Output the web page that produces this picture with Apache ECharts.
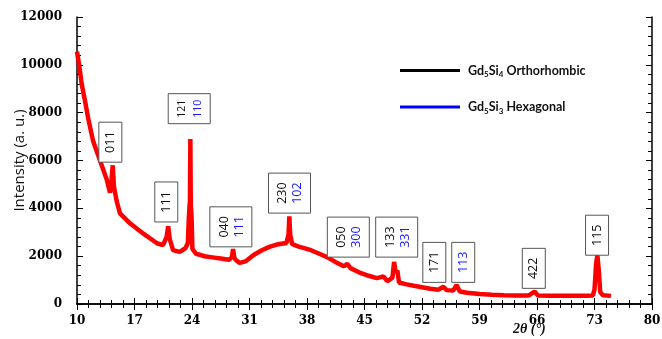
<!DOCTYPE html>
<html><head><meta charset="utf-8">
<script src="https://cdn.jsdelivr.net/npm/echarts@6/dist/echarts.min.js"></script>
<style>html,body{margin:0;padding:0;background:#fff}#c{width:662px;height:339px}</style>
</head><body><div id="c"></div>
<script>
// 2θ (degrees) and intensity (a.u.)
const twoTheta = [10.0,10.3,10.57,10.97,11.34,11.95,12.8,13.65,14.02,14.2,14.35,14.5,14.83,15.23,16.45,18.04,19.74,20.47,20.9,21.1,21.3,21.69,22.5,23.2,23.5,23.6,23.7,23.75,23.8,23.85,23.95,24.05,24.5,25.5,26.5,27.5,28.5,28.85,29.0,29.15,29.3,29.8,30.5,31.5,32.5,33.5,34.5,35.5,35.75,35.85,35.95,36.2,37.0,38.5,39.5,40.5,41.5,42.5,42.9,43.3,44.5,45.5,46.5,47.3,47.8,48.4,48.6,48.8,49.0,49.2,50.0,51.0,52.0,53.0,54.0,54.6,55.0,55.8,56.2,56.6,57.5,59.0,60.5,62.0,63.5,65.0,65.7,66.1,67.5,69.0,70.5,72.0,72.8,73.0,73.2,73.35,73.5,73.7,74.0,75.0];
const intensity = [10550,9900,9200,8500,7800,6830,6000,5170,4650,5200,5800,4900,4300,3790,3375,2950,2540,2460,2800,3250,2700,2250,2180,2330,2550,3500,4100,4300,6900,4200,3600,2300,2100,2000,1950,1900,1850,1950,2300,1950,1850,1720,1780,2050,2250,2400,2500,2550,2900,3670,2900,2500,2400,2250,2100,1950,1750,1580,1680,1500,1300,1180,1080,1150,950,1100,1760,1300,1400,900,830,760,700,640,600,720,580,560,790,520,470,420,390,370,360,360,520,360,350,350,350,350,360,600,1700,2040,1500,500,370,340];

// axis ticks
const xMin = 10, xMax = 80, xStep = 7;
const yMin = 0, yMax = 12000, yStep = 2000;

// reflection annotations: [peak 2θ anchor, box-bottom intensity anchor, Gd5Si4 label, Gd5Si3 label]
const annX      = [14.06, 23.66, 20.87, 28.73, 35.87, 43.03, 48.92, 53.5, 57.02, 65.61, 73.31];
const annY      = [5930, 7540, 3430, 2390, 3800, 1960, 1960, 904, 904, 654, 2040];
const annOrtho  = ['011', '121', '111', '040', '230', '050', '133', '171', '',    '422', '115'];
const annHexa   = ['',    '110', '',    '111', '102', '300', '331', '',    '113', '',    ''];

const legendNames = ['Gd5Si4 Orthorhombic', 'Gd5Si3 Hexagonal'];

const chart = echarts.init(document.getElementById('c'));
const lblFont = {fontFamily:'DejaVu Serif', fontWeight:'bold', fontSize:12, color:'#000'};
const axisCommon = {
  type:'value', axisLine:{show:true, lineStyle:{color:'#000', width:1.5}},
  axisTick:{show:true, inside:true, length:6, lineStyle:{color:'#000'}},
  minorTick:{show:true, splitNumber:5, length:4, lineStyle:{color:'#000'}},
  splitLine:{show:false}
};
const data = twoTheta.map((x,i)=>[x,intensity[i]]);
chart.setOption({
  animation:false,
  grid:{left:77, right:10, top:17, bottom:35, containLabel:false, outerBoundsMode:'none'},
  xAxis:[
    Object.assign({}, axisCommon, {min:xMin, max:xMax, interval:xStep, position:'bottom',
      axisLabel:Object.assign({margin:11, formatter:v=>String(v)}, lblFont)}),
    Object.assign({}, axisCommon, {min:xMin, max:xMax, interval:xStep, position:'top', axisLabel:{show:false}})
  ],
  yAxis:[
    Object.assign({}, axisCommon, {min:yMin, max:yMax, interval:yStep, position:'left',
      axisLabel:Object.assign({margin:15, formatter:v=>String(v)}, lblFont),
      name:'Intensity (a. u.)', nameLocation:'middle', nameGap:50, nameMoveOverlap:false,
      nameTextStyle:{fontFamily:'Open Sans', fontSize:15, color:'#111'}}),
    Object.assign({}, axisCommon, {min:yMin, max:yMax, interval:yStep, position:'right', axisLabel:{show:false}})
  ],
  legend:{
    data:legendNames, orient:'vertical', left:395, top:59, itemWidth:60, itemHeight:3, icon:'rect',
    itemGap:22, itemStyle:{borderWidth:0},
    formatter:function(n){
      return n === legendNames[0] ? '{n|Gd}{s|5}{n|Si}{s|4}{n| Orthorhombic}' : '{n|Gd}{s|5}{n|Si}{s|3}{n| Hexagonal}';
    },
    textStyle:{padding:[0,0,0,3], rich:{
      n:{fontFamily:'Lato', fontWeight:700, fontSize:12.5, color:'#111', lineHeight:16},
      s:{fontFamily:'Lato', fontWeight:700, fontSize:8, color:'#111', lineHeight:16, verticalAlign:'bottom', padding:[6,0,0,0]}
    }}
  },
  series:[
    {name:'xrd', type:'line', data:data, showSymbol:false, symbol:'none',
     lineStyle:{color:'#ff0000', width:4.5}, z:3},
    {name:legendNames[0], type:'line', data:[], color:'#000'},
    {name:legendNames[1], type:'line', data:[], color:'#0000ff'}
  ]
});

function drawAnnotations(){
  const els = [];
  for (let i=0;i<annX.length;i++){
    const p = chart.convertToPixel({gridIndex:0}, [annX[i], annY[i]]);
    const two = annOrtho[i] && annHexa[i];
    const small = i === 1;
    const w = two ? 42 : 23, h = small ? 30 : 40;
    const fs = small ? 10.5 : 12.5;
    const left = p[0]-w/2, top = p[1]-h;
    els.push({type:'rect', shape:{x:left, y:top, width:w, height:h},
      style:{fill:'#fff', stroke:'#555', lineWidth:1}, z:10});
    const items = [];
    if (two){ items.push([annOrtho[i], '#111', 0.34]); items.push([annHexa[i], '#1a1aff', 0.70]); }
    else if (annOrtho[i]) items.push([annOrtho[i], '#111', 0.5]);
    else items.push([annHexa[i], '#1a1aff', 0.5]);
    items.forEach(it=>{
      els.push({type:'text', x:left + w*it[2], y:top + h/2, rotation:Math.PI/2,
        style:{text:it[0], fill:it[1], align:'center', verticalAlign:'middle',
          font:'500 '+fs+'px "Open Sans"'}, z:11});
    });
  }
  els.push({type:'text', left:513, top:322,
    style:{text:'2θ (°)', fill:'#111', font:'italic bold 14px "Liberation Serif"'}, z:11});
  chart.setOption({graphic:els});
}
drawAnnotations();
</script></body></html>
